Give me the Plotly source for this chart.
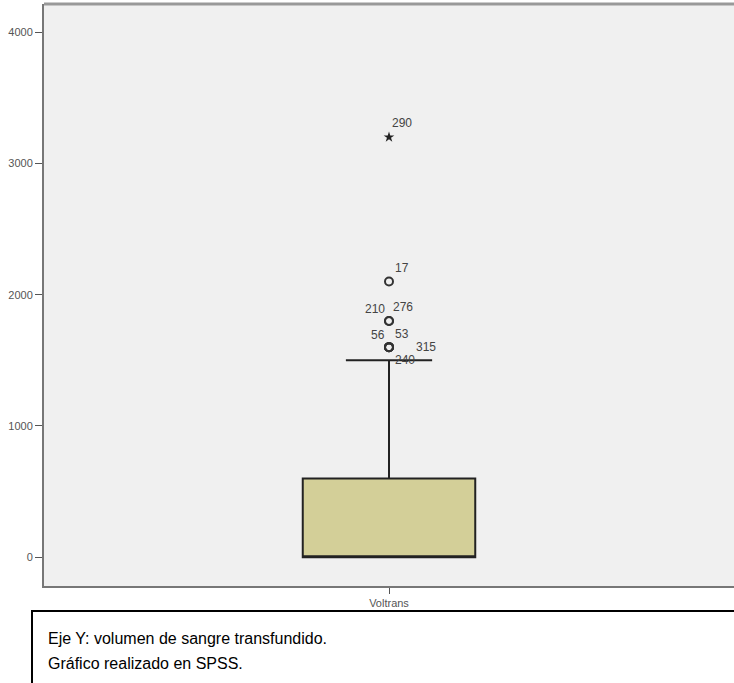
import plotly.graph_objects as go

category = ["Voltrans"]
q1 = [0]
median = [0]
q3 = [600]
lowerfence = [0]
upperfence = [1500]

outlier_ids = ["17", "210", "276", "56", "53", "315", "240"]
outlier_vals = [2100, 1800, 1800, 1600, 1600, 1600, 1600]
extreme_ids = ["290"]
extreme_vals = [3200]

# label offsets (px) for case numbers
label_shift = {"290": (13, 14), "17": (13, 14), "210": (-14, 12), "276": (14, 14),
               "56": (-11, 12), "53": (13, 13), "315": (37, 0), "240": (16, -13)}

y_ticks = [0, 1000, 2000, 3000, 4000]

FONT = "Liberation Sans, Arial"

fig = go.Figure()
fig.add_trace(go.Box(
    x=[0], q1=q1, median=median, q3=q3, lowerfence=lowerfence, upperfence=upperfence,
    width=1.0, whiskerwidth=0.5, fillcolor="#d3cf98",
    line=dict(color="#222222", width=2), boxpoints=False, showlegend=False,
    hoverinfo="skip",
))
fig.add_trace(go.Scatter(
    x=[0] * len(outlier_vals), y=outlier_vals, mode="markers",
    marker=dict(symbol="circle-open", size=8, color="#333333", line=dict(width=2, color="#333333")),
    showlegend=False,
))
fig.add_trace(go.Scatter(
    x=[0] * len(extreme_vals), y=extreme_vals, mode="markers",
    marker=dict(symbol="star", size=8, color="#222222"),
    showlegend=False,
))

for ids, vals in ((outlier_ids, outlier_vals), (extreme_ids, extreme_vals)):
    for i, v in zip(ids, vals):
        dx, dy = label_shift[i]
        fig.add_annotation(x=0, y=v, text=i, showarrow=False, xshift=dx, yshift=dy,
                           font=dict(family=FONT, size=12, color="#444444"))

fig.add_annotation(xref="paper", yref="paper", x=(46 - 44) / 690, y=(586 - 638) / 582,
                   xanchor="left", yanchor="middle", showarrow=False,
                   text="Eje Y: volumen de sangre transfundido.",
                   font=dict(family=FONT, size=16, color="#000000"))
fig.add_annotation(xref="paper", yref="paper", x=(46 - 44) / 690, y=(586 - 663) / 582,
                   xanchor="left", yanchor="middle", showarrow=False,
                   text="Gráfico realizado en SPSS.",
                   font=dict(family=FONT, size=16, color="#000000"))
fig.add_shape(type="rect", xref="paper", yref="paper",
              x0=(32 - 44) / 690, x1=(735 - 44) / 690, y0=(586 - 611) / 582, y1=(586 - 690) / 582,
              line=dict(color="#000000", width=2), fillcolor="rgba(0,0,0,0)")
# top frame line of plot area
fig.add_shape(type="line", xref="paper", yref="paper", x0=0, x1=1, y0=1, y1=1,
              line=dict(color="#999999", width=3))

fig.update_layout(
    width=734, height=683,
    margin=dict(l=44, r=0, t=4, b=97),
    paper_bgcolor="white", plot_bgcolor="#f0f0f0",
    font=dict(family=FONT, size=12, color="#555555"),
    xaxis=dict(range=[-2, 2], tickvals=[0], ticktext=category, ticks="outside", ticklen=6,
               tickcolor="#555555", showgrid=False, zeroline=False, showline=True,
               linecolor="#777777", linewidth=2, tickfont=dict(size=11, color="#555555")),
    yaxis=dict(range=[-220, 4215], tickvals=y_ticks, ticks="outside", ticklen=7,
               tickcolor="#555555", showgrid=False, zeroline=False, showline=True,
               linecolor="#777777", linewidth=2, tickfont=dict(size=11, color="#555555")),
)

fig.write_html("out.html", config={"displayModeBar": False},
               post_script="document.body.style.margin='0';document.body.style.overflow='hidden';")
